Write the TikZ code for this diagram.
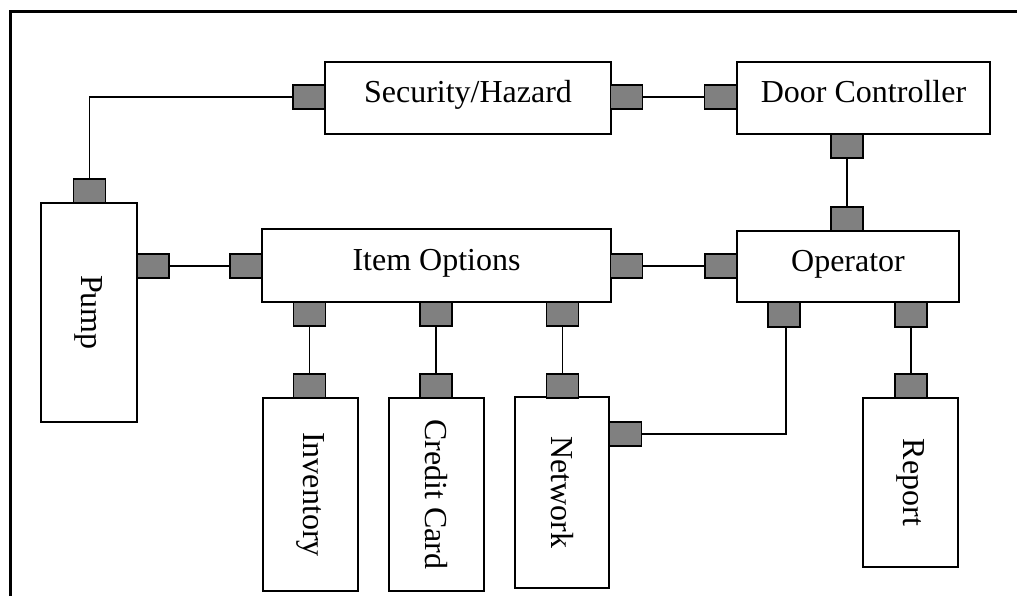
\documentclass[tikz,border=0pt]{standalone}
\usepackage{fontspec}
\setmainfont{Liberation Serif}
\usepackage{tikz}
\definecolor{portgray}{RGB}{128,128,128}

\begin{document}
\begin{tikzpicture}[x=0.5pt, y=-0.5pt, every node/.style={font=\fontsize{16}{19}\selectfont},
  box/.style={draw, line width=0.75pt, fill=white, inner sep=0pt, text height=11pt, text depth=6.4pt},
  vbox/.style={draw, line width=0.75pt, fill=white, inner sep=0pt, rotate=-90},
  port/.style={draw, line width=0.8pt, fill=portgray, inner sep=0pt, minimum width=16pt, minimum height=12.25pt},
  wire/.style={line width=0.75pt}]
\useasboundingbox (0,0) rectangle (1017,596);

% Frame
\draw[line width=1.5pt] (10,596) -- (10,11) -- (1017,11);

% Top row
\node[box, minimum width=143pt, minimum height=36pt] (sec) at (468,98) {Security/Hazard};
\node[box, minimum width=126.5pt, minimum height=36pt] (door) at (863.5,98) {Door Controller};

% Middle row
\node[vbox, minimum width=109.5pt, minimum height=48pt] (pump) at (89,312.5) {Pump};
\node[box, minimum width=174.5pt, minimum height=36.5pt] (item) at (436.5,265.5) {Item Options};
\node[box, minimum width=111pt, minimum height=35.5pt] (oper) at (848,266.5) {Operator};

% Bottom row
\node[vbox, minimum width=96.5pt, minimum height=47.5pt] (inv) at (310.5,494.5) {Inventory};
\node[vbox, minimum width=96.5pt, minimum height=47.5pt] (cred) at (436.5,494.5) {Credit Card};
\node[vbox, minimum width=95.5pt, minimum height=47pt] (net) at (562,492.5) {Network};
\node[vbox, minimum width=84.5pt, minimum height=47.5pt] (rep) at (910.5,482.5) {Report};

% Ports
\node[port] (secL) at (309,97) {};
\node[port] (secR) at (626.5,97) {};
\node[port] (doorL) at (720.5,97) {};
\node[port] (doorB) at (847,146) {};
\node[port] (pumpT) at (89.5,191) {};
\node[port] (pumpR) at (153,266) {};
\node[port] (itemL) at (246,266) {};
\node[port] (itemR) at (626.5,266) {};
\node[port] (itemB1) at (309.5,314) {};
\node[port] (itemB2) at (436,314) {};
\node[port] (itemB3) at (562.5,314) {};
\node[port] (operL) at (721,266) {};
\node[port] (operT) at (847,219) {};
\node[port] (operB1) at (784,314.5) {};
\node[port] (operB2) at (911,314.5) {};
\node[port] (invT) at (309.5,386) {};
\node[port] (credT) at (436,386) {};
\node[port] (netT) at (562.5,386) {};
\node[port] (netR) at (625.5,434) {};
\node[port] (repT) at (911,386) {};

% Connectors
\draw[wire] (pumpT.north) |- (secL.west);
\draw[wire] (secR.east) -- (doorL.west);
\draw[wire] (doorB.south) -- (operT.north);
\draw[wire] (pumpR.east) -- (itemL.west);
\draw[wire] (itemR.east) -- (operL.west);
\draw[wire] (itemB1.south) -- (invT.north);
\draw[wire] (itemB2.south) -- (credT.north);
\draw[wire] (itemB3.south) -- (netT.north);
\draw[wire] ([xshift=1pt]operB1.south) |- (netR.east);
\draw[wire] (operB2.south) -- (repT.north);
\end{tikzpicture}
\end{document}
